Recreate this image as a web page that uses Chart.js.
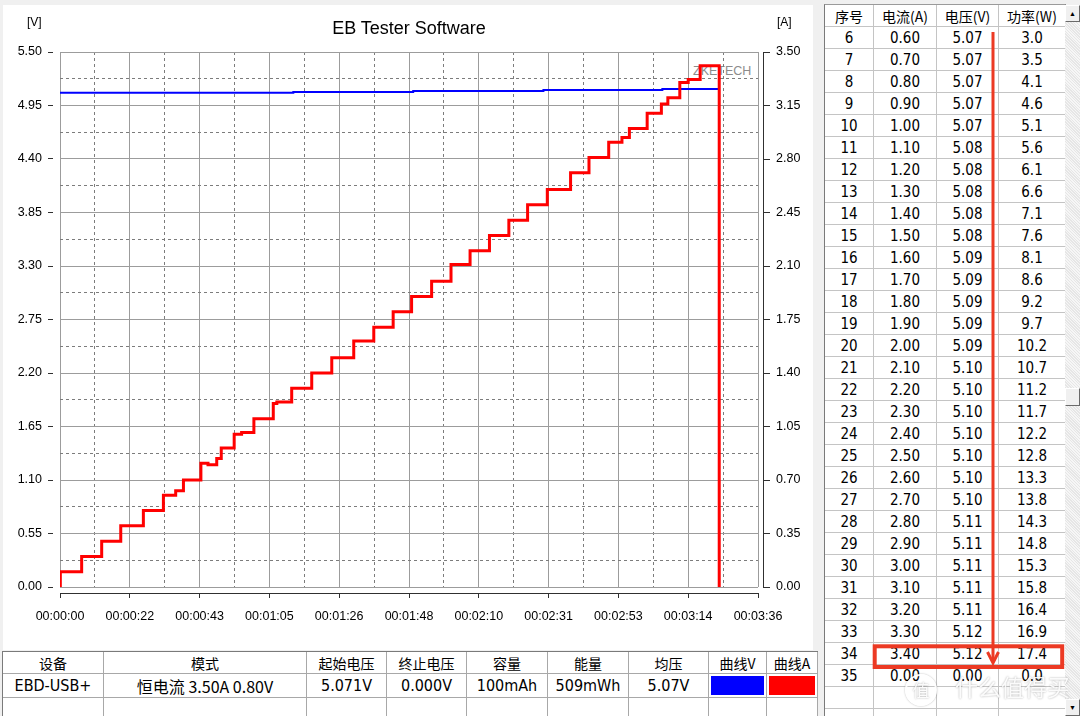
<!DOCTYPE html>
<html>
<head>
<meta charset="utf-8">
<title>EB Tester Software</title>
<script src="https://cdn.jsdelivr.net/npm/chart.js@4.4.1/dist/chart.umd.min.js"></script>
<style>
    html, body { margin: 0; padding: 0; }
    body {
        width: 1080px; height: 716px; overflow: hidden; position: relative;
        background: #f0f0f0; font-family: "Liberation Sans", Arial, sans-serif; color: #000;
    }
    .abs { position: absolute; }
    #panel { left: 3px; top: 5px; width: 810px; height: 645px; background: #fff; }
    #ebChart { left: 0; top: 0; }
    #title { left: 209px; top: 18px; width: 400px; text-align: center; font-size: 18px; line-height: 20px; }
    .unit { top: 14px; font-size: 12px; line-height: 16px; }
    #zketech { left: 693px; top: 63px; font-size: 12.5px; line-height: 16px; color: #8c8c8c; }

    .narrow { font-family: "Liberation Sans Narrow", "Arial Narrow", "DejaVu Sans Condensed", sans-serif; font-size: 15px; }
    .cjk { font-family: "Noto Sans CJK SC", sans-serif; font-size: 14px; }

    /* right list */
    #list { left: 824px; top: 4px; width: 240px; height: 712px; background: #fff;
            border-left: 1px solid #7a7a7a; border-top: 1px solid #9a9a9a; border-right: 1px solid #7a7a7a; overflow: hidden; }
    .row { display: flex; height: 22px; box-sizing: border-box; border-bottom: 1px solid #c4c4c4; }
    .cell { box-sizing: border-box; border-right: 1px solid #c4c4c4; display: flex; align-items: center; justify-content: center; white-space: nowrap; }
    #list .cell:nth-child(1) { width: 49px; }
    #list .cell:nth-child(2) { width: 63px; }
    #list .cell:nth-child(3) { width: 62px; }
    #list .cell:nth-child(4) { width: 66px; border-right: none; }

    /* scrollbar */
    #scroll { left: 1065px; top: 5px; width: 15px; height: 711px;
              background: repeating-linear-gradient(45deg, #e6e6e6 0 1px, #f6f6f6 1px 2px); }
    .sbtn { position: absolute; left: 0; width: 15px; height: 17px; background: #f0f0f0; box-sizing: border-box;
            border: 1px solid #fff; border-right-color: #6a6a6a; border-bottom-color: #6a6a6a;
            font-size: 7px; line-height: 15px; text-align: center; }
    #thumb { position: absolute; left: 0; top: 383px; width: 15px; height: 18px; background: #f0f0f0; box-sizing: border-box;
             border: 1px solid #fff; border-right-color: #6a6a6a; border-bottom-color: #6a6a6a; }

    /* bottom info table */
    #info { left: 2px; top: 651px; width: 815px; height: 70px; background: #fff;
            border-left: 1px solid #7a7a7a; border-top: 1px solid #7a7a7a; }
    #info .row { border-bottom-color: #a8a8a8; }
    #info .cell { border-right-color: #a8a8a8; }
    #info .narrow { font-size: 16px; }
    .swatch { width: 100%; height: 100%; margin: 0 1px; }

    #marks { left: 0; top: 0; pointer-events: none; }
    #wm { left: 905px; top: 668px; color: rgba(255,255,255,0.92); text-shadow: 0 0 2px rgba(0,0,0,0.35);
          font-family: "Noto Sans CJK SC", sans-serif; font-size: 23px; line-height: 36px; white-space: nowrap; }
    #wm span { display: inline-block; width: 28px; height: 28px; line-height: 28px; border: 2px solid rgba(255,255,255,0.92);
               border-radius: 50%; text-align: center; font-size: 17px; margin-right: 18px; box-shadow: 0 0 2px rgba(0,0,0,0.3); vertical-align: middle; }
</style>
</head>
<body>
<div id="panel" class="abs"></div>
<div id="zketech" class="abs">ZKETECH</div>
<canvas id="ebChart" class="abs" width="815" height="650"></canvas>
<div id="title" class="abs">EB Tester Software</div>
<div class="abs unit" style="left:27px">[V]</div>
<div class="abs unit" style="left:777px">[A]</div>

<div id="list" class="abs"></div>
<div id="scroll" class="abs">
    <div class="sbtn" style="top:0">&#9650;</div>
    <div id="thumb"></div>
    <div class="sbtn" style="bottom:0">&#9660;</div>
</div>
<div id="info" class="abs"></div>

<svg id="marks" class="abs" width="1080" height="716">
    <g stroke="#ec3a24" fill="none">
        <line x1="993" y1="32" x2="993" y2="661" stroke-width="3"/>
        <polyline points="987.5,652 993,663 998.5,652" stroke-width="3"/>
        <rect x="874.7" y="646.3" width="187.5" height="20.7" stroke-width="4"/>
    </g>
</svg>
<div id="wm" class="abs"><span>值</span>什么值得买</div>

<script>
// ---------- chart data ----------
const timeTicks  = [0, 21.6, 43.2, 64.8, 86.4, 108, 129.6, 151.2, 172.8, 194.4, 216];
const timeLabels = ['00:00:00', '00:00:22', '00:00:43', '00:01:05', '00:01:26', '00:01:48',
                    '00:02:10', '00:02:31', '00:02:53', '00:03:14', '00:03:36'];
const voltTicks  = [0, 0.55, 1.10, 1.65, 2.20, 2.75, 3.30, 3.85, 4.40, 4.95, 5.50];
const ampTicks   = [0, 0.35, 0.70, 1.05, 1.40, 1.75, 2.10, 2.45, 2.80, 3.15, 3.50];

// current steps: time (s) where the level changes, new level (A)
const ampTimes = [0, 0.1, 6.7, 12.9, 18.8, 25.8, 32.0, 35.8, 38.2, 43.6, 45.8,
                  48.5, 49.9, 53.9, 56.2, 60.0, 66.0, 67.1, 71.7, 77.9, 84.1,
                  90.9, 97.1, 103.1, 108.8, 115.0, 121.0, 126.9, 132.9, 138.9, 144.7,
                  150.8, 158.0, 163.7, 169.8, 173.9, 176.2, 181.7, 186.1, 188.1, 191.8,
                  194.4, 198.1, 204.0];
const ampValues = [0, 0.10, 0.20, 0.30, 0.40, 0.50, 0.60, 0.63, 0.70, 0.81, 0.80,
                   0.84, 0.91, 1.00, 1.01, 1.10, 1.20, 1.21, 1.30, 1.40, 1.50,
                   1.61, 1.70, 1.80, 1.90, 2.00, 2.11, 2.20, 2.30, 2.40, 2.50,
                   2.60, 2.71, 2.81, 2.91, 2.94, 3.00, 3.10, 3.16, 3.20, 3.30,
                   3.32, 3.41, 0];

// voltage steps
const voltTimes  = [0, 72.2, 109.3, 149.6, 186.4, 203.7];
const voltValues = [5.08, 5.09, 5.10, 5.11, 5.12, 5.12];

// ---------- list data ----------
const rowIds     = ['6','7','8','9','10','11','12','13','14','15','16','17','18','19','20',
                    '21','22','23','24','25','26','27','28','29','30','31','32','33','34','35'];
const rowCurrent = ['0.60','0.70','0.80','0.90','1.00','1.10','1.20','1.30','1.40','1.50',
                    '1.60','1.70','1.80','1.90','2.00','2.10','2.20','2.30','2.40','2.50',
                    '2.60','2.70','2.80','2.90','3.00','3.10','3.20','3.30','3.40','0.00'];
const rowVoltage = ['5.07','5.07','5.07','5.07','5.07','5.08','5.08','5.08','5.08','5.08',
                    '5.09','5.09','5.09','5.09','5.09','5.10','5.10','5.10','5.10','5.10',
                    '5.10','5.10','5.11','5.11','5.11','5.11','5.11','5.12','5.12','0.00'];
const rowPower   = ['3.0','3.5','4.1','4.6','5.1','5.6','6.1','6.6','7.1','7.6',
                    '8.1','8.6','9.2','9.7','10.2','10.7','11.2','11.7','12.2','12.8',
                    '13.3','13.8','14.3','14.8','15.3','15.8','16.4','16.9','17.4','0.0'];
const listHeader = ['序号', '电流(A)', '电压(V)', '功率(W)'];

const infoHeader = ['设备', '模式', '起始电压', '终止电压', '容量', '能量', '均压', '曲线V', '曲线A'];
const infoRow    = ['EBD-USB+', '恒电流  3.50A  0.80V', '5.071V', '0.000V', '100mAh', '509mWh', '5.07V'];
const infoWidths = [101, 203, 80, 80, 81, 81, 80, 58, 51];

const majorGrid = '#9c9c9c';
const minorGrid = '#7c7c7c';
const axisInk   = '#303030';

// ---------- helpers ----------
function withMinors(majors) {
    const out = [];
    majors.forEach((v, i) => {
        if (i > 0) out.push((majors[i - 1] + v) / 2);
        out.push(v);
    });
    return out;
}

function gridOpts(tickLen, tickDash, onArea) {
    return {
        drawOnChartArea: onArea,
        lineWidth: 1,
        color: c => c.index % 2 ? minorGrid : majorGrid,
        tickLength: tickLen,
        tickColor: c => c.index % 2 ? 'rgba(0,0,0,0)' : axisInk,
        tickBorderDash: tickDash
    };
}

const dashed = { display: false, dash: c => c.index % 2 ? [3, 3] : [] };

// offset axis lines like the original software
const axisLines = {
    id: 'axisLines',
    afterDraw(chart) {
        const { ctx, chartArea: a } = chart;
        ctx.save();
        ctx.strokeStyle = axisInk;
        ctx.lineWidth = 1;
        ctx.beginPath();
        ctx.moveTo(a.left, Math.round(a.bottom) + 6.5);
        ctx.lineTo(a.right + 1, Math.round(a.bottom) + 6.5);
        ctx.moveTo(Math.round(a.right) + 5.5, a.top);
        ctx.lineTo(Math.round(a.right) + 5.5, a.bottom + 1);
        ctx.stroke();
        ctx.restore();
    }
};

// ---------- chart ----------
function initChart() {
    const ctx = document.getElementById('ebChart');
    Chart.defaults.font.family = '"Liberation Sans", Arial, sans-serif';
    Chart.defaults.color = '#000';

    new Chart(ctx, {
        type: 'line',
        data: {
            datasets: [{
                label: 'A',
                data: ampTimes.map((t, i) => ({ x: t, y: ampValues[i] })),
                yAxisID: 'yA',
                borderColor: '#ff0000',
                borderWidth: 3,
                stepped: 'before',
                pointRadius: 0,
                fill: false
            }, {
                label: 'V',
                data: voltTimes.map((t, i) => ({ x: t, y: voltValues[i] })),
                yAxisID: 'yV',
                borderColor: '#0000ff',
                borderWidth: 2,
                stepped: 'before',
                pointRadius: 0,
                fill: false
            }]
        },
        options: {
            responsive: false,
            animation: false,
            devicePixelRatio: 1,
            layout: { padding: { top: 52, left: 0, right: 0, bottom: 0 } },
            plugins: { legend: { display: false }, tooltip: { enabled: false } },
            scales: {
                x: {
                    type: 'linear', min: 0, max: 216,
                    afterFit: s => { s.height = 63; },
                    afterBuildTicks: s => { s.ticks = withMinors(timeTicks).map(v => ({ value: v })); },
                    grid: gridOpts(11, [0, 6, 5, 100], true),
                    border: dashed,
                    ticks: {
                        autoSkip: false, maxRotation: 0, padding: 11,
                        font: { size: 12.5 },
                        callback: (v, i) => i % 2 ? '' : timeLabels[i / 2]
                    }
                },
                yV: {
                    type: 'linear', position: 'left', min: 0, max: 5.5,
                    afterFit: s => { s.width = 60; },
                    afterBuildTicks: s => { s.ticks = withMinors(voltTicks).map(v => ({ value: v })); },
                    grid: gridOpts(12, [5, 20], true),
                    border: dashed,
                    ticks: {
                        autoSkip: false, padding: 6,
                        font: { size: 12.5 },
                        callback: (v, i) => i % 2 ? '' : voltTicks[i / 2].toFixed(2)
                    }
                },
                yA: {
                    type: 'linear', position: 'right', min: 0, max: 3.5,
                    afterFit: s => { s.width = 57; },
                    afterBuildTicks: s => { s.ticks = withMinors(ampTicks).map(v => ({ value: v })); },
                    grid: gridOpts(12, [0, 5, 7, 100], false),
                    border: { display: false },
                    ticks: {
                        autoSkip: false, padding: 6,
                        font: { size: 12.5 },
                        callback: (v, i) => i % 2 ? '' : ampTicks[i / 2].toFixed(2)
                    }
                }
            }
        },
        plugins: [axisLines]
    });
}

// ---------- tables ----------
function makeRow(values, cls) {
    const r = document.createElement('div');
    r.className = 'row';
    values.forEach(v => {
        const c = document.createElement('div');
        c.className = 'cell ' + (/[\u4e00-\u9fff]/.test(v) && !/\d/.test(v) ? 'cjk' : cls);
        c.textContent = v;
        r.appendChild(c);
    });
    return r;
}

function initList() {
    const list = document.getElementById('list');
    list.appendChild(makeRow(listHeader, 'cjk'));
    rowIds.forEach((id, i) => {
        list.appendChild(makeRow([id, rowCurrent[i], rowVoltage[i], rowPower[i]], 'narrow'));
    });
    list.appendChild(makeRow(['', '', '', ''], 'narrow'));
    list.appendChild(makeRow(['', '', '', ''], 'narrow'));
}

function initInfo() {
    const info = document.getElementById('info');
    const head = makeRow(infoHeader, 'cjk');
    head.style.height = '22px';
    const data = makeRow(infoRow.concat(['', '']), 'narrow');
    data.style.height = '24px';
    // the mode cell mixes CJK and latin text
    data.children[1].style.fontFamily = '"Liberation Sans Narrow", "Noto Sans CJK SC", sans-serif';
    const swV = document.createElement('div'); swV.className = 'swatch'; swV.style.background = '#0000ff';
    const swA = document.createElement('div'); swA.className = 'swatch'; swA.style.background = '#ff0000';
    data.children[7].style.padding = '2px 1px'; data.children[7].appendChild(swV);
    data.children[8].style.padding = '2px 1px'; data.children[8].appendChild(swA);
    const empty = makeRow(infoWidths.map(() => ''), 'narrow');
    empty.style.height = '30px';
    [head, data, empty].forEach(r => {
        Array.from(r.children).forEach((c, i) => { c.style.width = infoWidths[i] + 'px'; });
        info.appendChild(r);
    });
}

document.addEventListener('DOMContentLoaded', function() {
    initChart();
    initList();
    initInfo();
});
</script>
</body>
</html>
